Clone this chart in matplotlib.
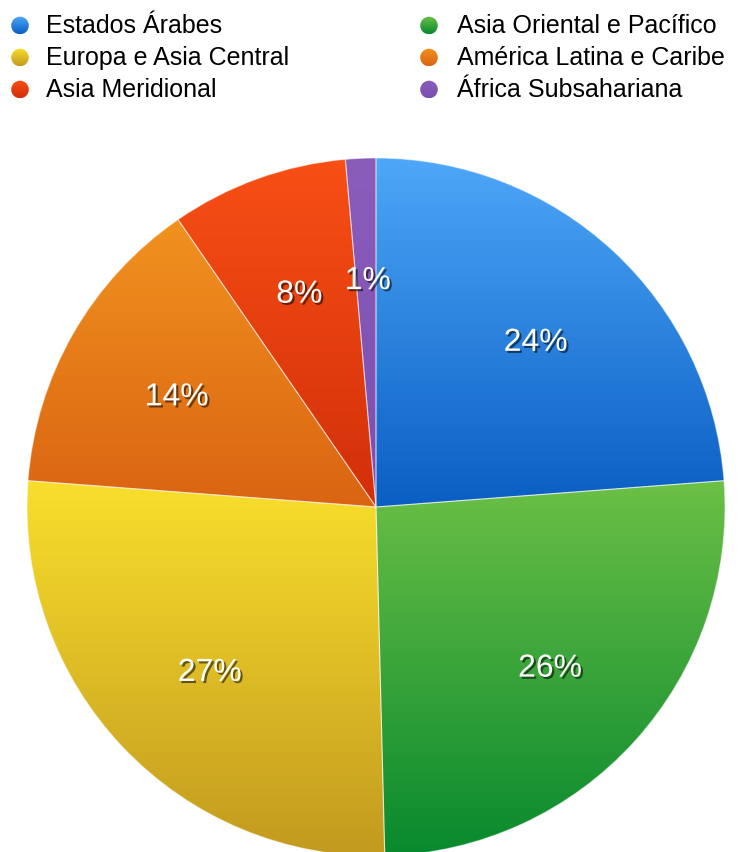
import numpy as np
import matplotlib
matplotlib.use("Agg")
import matplotlib.pyplot as plt
from matplotlib import patheffects as pe
from matplotlib.colors import LinearSegmentedColormap
from matplotlib.patches import Circle

plt.rcParams['font.family'] = ['Liberation Sans', 'DejaVu Sans']

# Share of each region (percent), clockwise from 12 o'clock
categories = ["Estados Árabes", "Asia Oriental e Pacífico", "Europa e Asia Central",
              "América Latina e Caribe", "Asia Meridional", "África Subsahariana"]
values = [23.8, 25.8, 26.6, 14.2, 8.2, 1.4]

# Vertical gradient (top colour, bottom colour) for every region
top_colors = ["#4ea7f8", "#6cc046", "#f9df2c", "#f1921f", "#f84f15", "#8b5dbb"]
bottom_colors = ["#0a5ec3", "#08892e", "#c29a1f", "#da6412", "#d22f0a", "#7b4daf"]

W, H = 745, 853
fig = plt.figure(figsize=(W / 100, H / 100), dpi=100)
ax = fig.add_axes([0, 0, 1, 1])


def fill_gradient(patch, c_top, c_bot):
    """Paint a vertical gradient clipped to the given patch."""
    bb = patch.get_path().get_extents(patch.get_patch_transform())
    cmap = LinearSegmentedColormap.from_list("g", [c_bot, c_top])
    grad = np.linspace(0, 1, 256).reshape(-1, 1)
    im = ax.imshow(grad, cmap=cmap, origin="lower", aspect="auto",
                   extent=[bb.x0, bb.x1, bb.y0, bb.y1], zorder=patch.get_zorder(),
                   interpolation="bilinear")
    im.set_clip_path(patch)


cx, cy, radius = 376, H - 508, 349

wedges, _, autotexts = ax.pie(
    values, startangle=90, counterclock=False, center=(cx, cy), radius=radius,
    autopct=lambda p: f"{p:.0f}%", pctdistance=0.665,
    wedgeprops=dict(edgecolor=(1, 1, 1, 0.45), linewidth=0.8),
    textprops=dict(color="white", fontsize=23), frame=True)
ax.set_xlim(0, W)
ax.set_ylim(0, H)
ax.set_aspect("equal")
ax.axis("off")

for w, ct, cb in zip(wedges, top_colors, bottom_colors):
    w.set_facecolor("none")
    w.set_zorder(2)
    fill_gradient(w, ct, cb)
    w.set_zorder(3)

shadow = [pe.withSimplePatchShadow(offset=(1.5, -1.5), shadow_rgbFace="black", alpha=0.55)]
for t in autotexts:
    x, y = t.get_position()
    t.set_position((x + 2, y - 6))
    t.set_path_effects(shadow)
    t.set_zorder(5)

# Legend in two columns
dot_y = [H - 26.5, H - 58.5, H - 90.5]
base_y = [H - 33, H - 65, H - 97]
col_x = [(20, 46), (429, 457)]
order = [[0, 2, 4], [1, 3, 5]]
for (mx, tx), idxs in zip(col_x, order):
    for dy, by, i in zip(dot_y, base_y, idxs):
        c = Circle((mx, dy), 8.8, facecolor="none", edgecolor="none", zorder=2)
        ax.add_patch(c)
        fill_gradient(c, top_colors[i], bottom_colors[i])
        ax.text(tx, by, categories[i], fontsize=18, color="black",
                va="baseline", ha="left")

fig.savefig("out.png", dpi=100)
